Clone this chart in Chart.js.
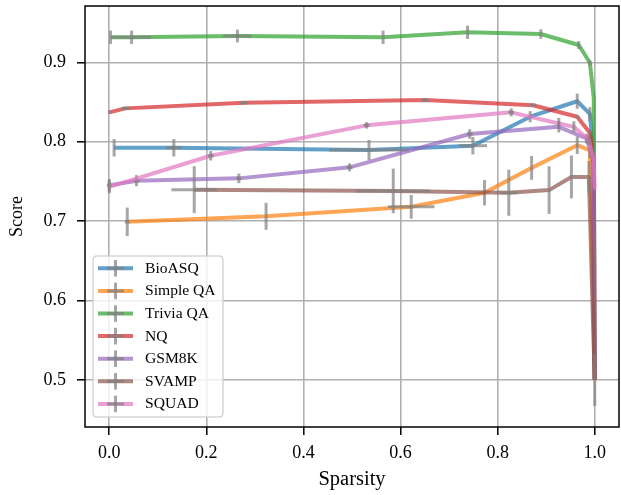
<!DOCTYPE html>
<html>
<head>
<meta charset="utf-8">
<script src="https://cdn.jsdelivr.net/npm/chart.js@4.4.1/dist/chart.umd.min.js"></script>
<style>
html,body{margin:0;padding:0;background:#fff;}
canvas{display:block;}
</style>
</head>
<body>
<canvas id="c" width="621" height="495" style="width:621px;height:495px"></canvas>
<script>
// ---------- data ----------
const seriesNames = ["BioASQ", "Simple QA", "Trivia QA", "NQ", "GSM8K", "SVAMP", "SQUAD"];
const seriesColors = ["31,119,180", "255,127,14", "44,160,44", "214,39,40", "148,103,189", "140,86,75", "227,119,194"];

const bioX    = [0.01, 0.133, 0.535, 0.749, 0.867, 0.964, 0.99, 0.995, 1.0];
const bioY    = [0.7924, 0.7924, 0.7895, 0.795, 0.8315, 0.851, 0.835, 0.80, 0.5];
const bioYerr = [0.011, 0.011, 0.0126, 0.011, 0.007, 0.0095, 0.0085, 0, 0];
const bioXerr = [0, 0.017, 0.082, 0.029, 0, 0, 0, 0, 0];

const sqaX    = [0.037, 0.323, 0.622, 0.773, 0.870, 0.964, 0.99, 1.0];
const sqaY    = [0.699, 0.706, 0.718, 0.7357, 0.767, 0.7956, 0.789, 0.5];
const sqaYerr = [0.018, 0.017, 0.015, 0.016, 0.015, 0.011, 0.01, 0];
const sqaXerr = [0.005, 0, 0.048, 0, 0, 0, 0, 0];

const triX    = [0.0025, 0.046, 0.264, 0.564, 0.738, 0.889, 0.967, 0.99, 0.998, 1.0];
const triY    = [0.9316, 0.9316, 0.9332, 0.9316, 0.9379, 0.9357, 0.9218, 0.8995, 0.855, 0.5];
const triYerr = [0.0084, 0.0084, 0.008, 0.0084, 0.0084, 0.006, 0.005, 0.003, 0, 0];
const triXerr = [0, 0.04, 0.029, 0, 0, 0, 0, 0, 0, 0];

const nqX    = [0.0, 0.033, 0.277, 0.651, 0.873, 0.964, 0.99, 0.998, 1.0];
const nqY    = [0.837, 0.842, 0.849, 0.8525, 0.846, 0.8315, 0.811, 0.773, 0.5];
const nqYerr = [0.002, 0.002, 0.002, 0.002, 0.002, 0.002, 0.002, 0, 0];
const nqXerr = [0, 0.008, 0.009, 0.007, 0.006, 0, 0, 0, 0];

const gsmX    = [0.0, 0.056, 0.267, 0.495, 0.7425, 0.926, 0.983, 0.998, 1.0];
const gsmY    = [0.745, 0.7508, 0.7538, 0.7677, 0.8097, 0.8187, 0.804, 0.777, 0.5];
const gsmYerr = [0.008, 0.007, 0.006, 0.005, 0.006, 0.007, 0.006, 0, 0];
const gsmXerr = [0.005, 0.006, 0.005, 0.006, 0.006, 0, 0, 0, 0];

const svaX    = [0.175, 0.585, 0.823, 0.906, 0.952, 0.988, 1.0];
const svaY    = [0.7396, 0.738, 0.7357, 0.739, 0.7556, 0.7556, 0.5];
const svaYerr = [0.0295, 0.028, 0.029, 0.030, 0.027, 0.02, 0.033];
const svaXerr = [0.047, 0.076, 0.018, 0, 0, 0, 0];

const squX    = [0.0, 0.209, 0.53, 0.828, 0.926, 0.957, 0.988, 0.998, 1.0];
const squY    = [0.743, 0.7823, 0.8206, 0.837, 0.823, 0.8187, 0.802, 0.777, 0.74];
const squYerr = [0.008, 0.006, 0.004, 0.005, 0.007, 0.007, 0.006, 0, 0];
const squXerr = [0, 0.006, 0.006, 0.006, 0, 0, 0, 0, 0];

const xTicks = [0.0, 0.2, 0.4, 0.6, 0.8, 1.0];
const yTicks = [0.5, 0.6, 0.7, 0.8, 0.9];
const xLabel = "Sparsity";
const yLabel = "Score";

// ---------- build ----------
const allX = [bioX, sqaX, triX, nqX, gsmX, svaX, squX];
const allY = [bioY, sqaY, triY, nqY, gsmY, svaY, squY];
const allYerr = [bioYerr, sqaYerr, triYerr, nqYerr, gsmYerr, svaYerr, squYerr];
const allXerr = [bioXerr, sqaXerr, triXerr, nqXerr, gsmXerr, svaXerr, squXerr];

const datasets = seriesNames.map((name, i) => ({
  label: name,
  data: allX[i].map((x, j) => ({x: x, y: allY[i][j]})),
  yerr: allYerr[i],
  xerr: allXerr[i],
  showLine: true,
  borderColor: `rgba(${seriesColors[i]},0.7)`,
  backgroundColor: `rgba(${seriesColors[i]},0.7)`,
  borderWidth: 4,
  borderJoinStyle: 'round',
  pointRadius: 0,
  tension: 0,
  order: -i
}));

const ERR_COLOR = 'rgba(128,128,128,0.7)';

const errorBarPlugin = {
  id: 'errorBars',
  afterDatasetDraw(chart, args) {
    const ds = chart.data.datasets[args.index];
    const xs = chart.scales.x, ys = chart.scales.y;
    const ctx = chart.ctx;
    const a = chart.chartArea;
    ctx.save();
    ctx.beginPath();
    ctx.rect(a.left, a.top, a.right - a.left, a.bottom - a.top);
    ctx.clip();
    ctx.strokeStyle = ERR_COLOR;
    ctx.lineWidth = 3;
    ctx.lineCap = 'butt';
    ds.data.forEach((p, j) => {
      const ye = ds.yerr[j], xe = ds.xerr[j];
      if (ye > 0) {
        const px = xs.getPixelForValue(p.x);
        ctx.beginPath();
        ctx.moveTo(px, ys.getPixelForValue(p.y - ye));
        ctx.lineTo(px, ys.getPixelForValue(p.y + ye));
        ctx.stroke();
      }
      if (xe > 0) {
        const py = ys.getPixelForValue(p.y);
        ctx.beginPath();
        ctx.moveTo(xs.getPixelForValue(p.x - xe), py);
        ctx.lineTo(xs.getPixelForValue(p.x + xe), py);
        ctx.stroke();
      }
    });
    ctx.restore();
  }
};

function roundRect(ctx, x, y, w, h, r) {
  ctx.beginPath();
  ctx.moveTo(x + r, y);
  ctx.lineTo(x + w - r, y);
  ctx.quadraticCurveTo(x + w, y, x + w, y + r);
  ctx.lineTo(x + w, y + h - r);
  ctx.quadraticCurveTo(x + w, y + h, x + w - r, y + h);
  ctx.lineTo(x + r, y + h);
  ctx.quadraticCurveTo(x, y + h, x, y + h - r);
  ctx.lineTo(x, y + r);
  ctx.quadraticCurveTo(x, y, x + r, y);
  ctx.closePath();
}

const framePlugin = {
  id: 'frameLegend',
  afterDraw(chart) {
    const ctx = chart.ctx;
    const a = chart.chartArea;
    ctx.save();
    // legend
    const lx = a.left + 8, ly = 256, lw = 130, lh = 161;
    roundRect(ctx, lx, ly, lw, lh, 4);
    ctx.fillStyle = 'rgba(255,255,255,0.8)';
    ctx.fill();
    ctx.strokeStyle = 'rgba(204,204,204,0.8)';
    ctx.lineWidth = 1.5;
    ctx.stroke();
    ctx.font = '15.6px "Liberation Serif"';
    ctx.textBaseline = 'middle';
    ctx.textAlign = 'left';
    chart.data.datasets.forEach((ds, i) => {
      const cy = 268.3 + i * 22.6;
      const x0 = lx + 5, x1 = lx + 40, xc = (x0 + x1) / 2;
      ctx.strokeStyle = ds.borderColor;
      ctx.lineWidth = 4;
      ctx.beginPath(); ctx.moveTo(x0, cy); ctx.lineTo(x1, cy); ctx.stroke();
      ctx.strokeStyle = ERR_COLOR;
      ctx.lineWidth = 3;
      ctx.beginPath(); ctx.moveTo(xc - 8.5, cy); ctx.lineTo(xc + 8.5, cy); ctx.stroke();
      ctx.beginPath(); ctx.moveTo(xc, cy - 8.3); ctx.lineTo(xc, cy + 8.3); ctx.stroke();
      ctx.fillStyle = '#000';
      ctx.fillText(ds.label, lx + 52, cy + 0.5);
    });
    // frame
    ctx.strokeStyle = '#000';
    ctx.lineWidth = 1.5;
    ctx.strokeRect(a.left, a.top, a.right - a.left, a.bottom - a.top);
    ctx.restore();
  }
};

const tickFont = {family: '"Liberation Serif"', size: 18};

new Chart(document.getElementById('c'), {
  type: 'scatter',
  data: {datasets},
  options: {
    responsive: false,
    animation: false,
    devicePixelRatio: 1,
    layout: {padding: {left: 0, right: 2, top: 6, bottom: 0}},
    plugins: {legend: {display: false}, tooltip: {enabled: false}},
    scales: {
      x: {
        type: 'linear', min: -0.05, max: 1.05,
        afterBuildTicks: s => { s.ticks = xTicks.map(v => ({value: v})); },
        afterFit: s => { s.height = 68; s.paddingLeft = 0; s.paddingRight = 0; },
        ticks: {font: tickFont, color: '#000', padding: 7, maxRotation: 0,
                callback: v => Number(v).toFixed(1)},
        grid: {color: '#b0b0b0', lineWidth: 1.6, tickLength: 8, tickColor: '#000', tickWidth: 1.5},
        border: {display: false},
        title: {display: true, text: xLabel, color: '#000',
                font: {family: '"Liberation Serif"', size: 20.5}, padding: {top: 0, bottom: 3}}
      },
      y: {
        type: 'linear', min: 0.4405, max: 0.971,
        afterBuildTicks: s => { s.ticks = yTicks.map(v => ({value: v})); },
        afterFit: s => { s.width = 85; s.paddingTop = 0; s.paddingBottom = 0; },
        ticks: {font: tickFont, color: '#000', padding: 11,
                callback: v => Number(v).toFixed(1)},
        grid: {color: '#b0b0b0', lineWidth: 1.6, tickLength: 8, tickColor: '#000', tickWidth: 1.5},
        border: {display: false},
        title: {display: true, text: yLabel, color: '#000',
                font: {family: '"Liberation Serif"', size: 18}, padding: {top: 6, bottom: 0}}
      }
    }
  },
  plugins: [errorBarPlugin, framePlugin]
});
</script>
</body>
</html>
